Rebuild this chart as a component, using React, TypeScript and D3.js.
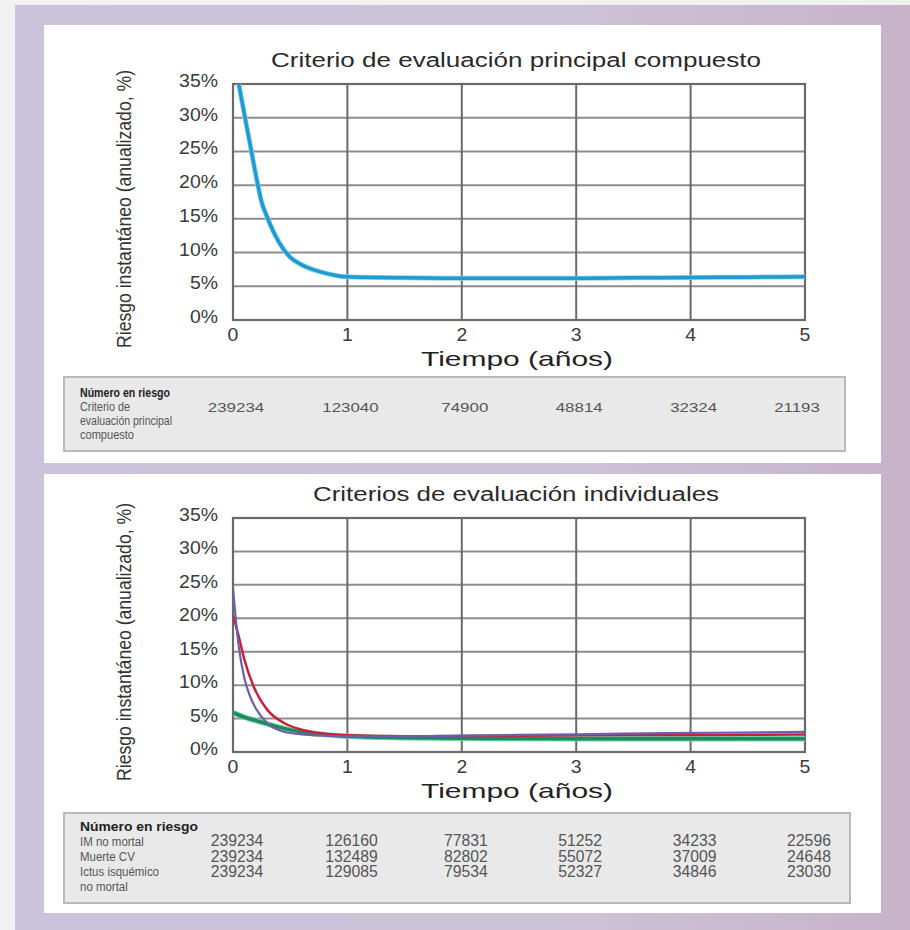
import React from "react";
import * as d3 from "d3";

// ---------- data ----------
const xTicks = [0, 1, 2, 3, 4, 5];
const yTicks = [0, 5, 10, 15, 20, 25, 30, 35];

const compTime = [0, 0.05, 0.1, 0.15, 0.2, 0.25, 0.3, 0.4, 0.5, 0.6, 0.75, 0.9, 1, 1.5, 2, 2.5, 3, 3.5, 4, 4.5, 5];
const compRisk = [40, 35, 30.5, 26, 21.5, 17.5, 15.2, 11.6, 9.3, 8.2, 7.2, 6.6, 6.4, 6.25, 6.2, 6.2, 6.2, 6.25, 6.3, 6.35, 6.4];

const miTime = [0, 0.05, 0.1, 0.15, 0.2, 0.3, 0.45, 0.6, 0.8, 1, 1.5, 2, 3, 4, 5];
const miRisk = [24.5, 15.8, 11.0, 8.3, 6.5, 4.3, 3.0, 2.65, 2.45, 2.35, 2.35, 2.45, 2.65, 2.85, 3.0];

const cvTime = [0, 0.05, 0.1, 0.18, 0.3, 0.45, 0.6, 0.75, 1, 1.5, 2, 3, 4, 5];
const cvRisk = [20.5, 17.3, 13.8, 9.8, 6.3, 4.3, 3.35, 2.85, 2.5, 2.35, 2.4, 2.5, 2.55, 2.6];

const strokeTime = [0, 0.1, 0.2, 0.3, 0.45, 0.6, 0.8, 1, 1.5, 2, 3, 4, 5];
const strokeRisk = [5.9, 5.2, 4.7, 4.2, 3.5, 3.0, 2.6, 2.35, 2.15, 2.05, 2.0, 2.0, 2.0];

const title1 = "Criterio de evaluación principal compuesto";
const title2 = "Criterios de evaluación individuales";
const yLabel = "Riesgo instantáneo (anualizado, %)";
const xLabel = "Tiempo (años)";
const riskHeader = "Número en riesgo";

const compLabel = ["Criterio de", "evaluación principal", "compuesto"];
const compAtRisk = [239234, 123040, 74900, 48814, 32324, 21193];

const indLabels = ["IM no mortal", "Muerte CV", "Ictus isquémico", "no mortal"];
const miAtRisk = [239234, 126160, 77831, 51252, 34233, 22596];
const cvAtRisk = [239234, 132489, 82802, 55072, 37009, 24648];
const strokeAtRisk = [239234, 129085, 79534, 52327, 34846, 23030];

// ---------- helpers ----------
const FONT = "'Liberation Sans', Arial, Helvetica, sans-serif";

type TP = {
  x: number; y: number; size: number; anchor?: string; sx?: number; sy?: number;
  weight?: string | number; fill?: string; len?: number; children: React.ReactNode;
};
function T({ x, y, size, anchor = "start", sx = 1, sy = 1, weight = "normal", fill = "#333", len, children }: TP) {
  return (
    <text
      transform={`translate(${x},${y}) scale(${sx},${sy})`}
      fontSize={size}
      fontFamily={FONT}
      fontWeight={weight}
      textAnchor={anchor}
      fill={fill}
      textLength={len}
      lengthAdjust={len ? "spacingAndGlyphs" : undefined}
    >
      {children}
    </text>
  );
}

type Series = { t: number[]; v: number[]; color: string; width: number; under?: string; underWidth?: number };

function Panel({
  cardTop, cardHeight, plotTop, plotBottom, title, titleLen, series, clipId, table,
}: {
  cardTop: number; cardHeight: number; plotTop: number; plotBottom: number; title: string; titleLen: number;
  series: Series[]; clipId: string; table: React.ReactNode;
}) {
  const left = 233, right = 805;
  const x = d3.scaleLinear().domain([0, 5]).range([left, right]);
  const y = d3.scaleLinear().domain([0, 35]).range([plotBottom, plotTop]);
  const line = d3.line<[number, number]>().x(d => x(d[0])).y(d => y(d[1])).curve(d3.curveMonotoneX);
  const midY = (plotTop + plotBottom) / 2;

  return (
    <g>
      <rect x={44} y={cardTop} width={837} height={cardHeight} fill="#ffffff" />
      <T x={516} y={plotTop - 17} size={20} anchor="middle" fill="#2a2a2a" len={titleLen}>{title}</T>

      <clipPath id={clipId}>
        <rect x={left} y={plotTop} width={right - left} height={plotBottom - plotTop} />
      </clipPath>

      {yTicks.filter(v => v > 0 && v < 35).map(v => (
        <line key={"h" + v} x1={left} x2={right} y1={y(v)} y2={y(v)} stroke="#8d8d8d" strokeWidth={2} />
      ))}
      {xTicks.filter(v => v > 0 && v < 5).map(v => (
        <line key={"v" + v} x1={x(v)} x2={x(v)} y1={plotTop} y2={plotBottom} stroke="#6a6a6a" strokeWidth={2} />
      ))}
      <rect x={left} y={plotTop} width={right - left} height={plotBottom - plotTop} fill="none" stroke="#6a6a6a" strokeWidth={2.2} />

      <g clipPath={`url(#${clipId})`}>
        {series.map((s, i) => {
          const pts = s.t.map((t, j) => [t, s.v[j]] as [number, number]);
          const d = line(pts) || "";
          return (
            <g key={i}>
              {s.under && <path d={d} fill="none" stroke={s.under} strokeWidth={s.underWidth} strokeLinejoin="round" />}
              <path d={d} fill="none" stroke={s.color} strokeWidth={s.width} strokeLinejoin="round" />
            </g>
          );
        })}
      </g>

      {yTicks.map(v => (
        <T key={"yt" + v} x={218} y={y(v) + 3} size={18} anchor="end" sx={1.08} sy={1.05} fill="#3a3a3a">{v + "%"}</T>
      ))}
      {xTicks.map(v => (
        <T key={"xt" + v} x={x(v)} y={plotBottom + 21} size={18} anchor="middle" sx={1.08} sy={1.05} fill="#3a3a3a">{String(v)}</T>
      ))}
      <T x={517} y={plotBottom + 46} size={21} anchor="middle" fill="#222" len={192}>{xLabel}</T>

      <text
        transform={`translate(131,${midY + 7}) rotate(-90)`}
        fontSize={21}
        fontFamily={FONT}
        textAnchor="middle"
        fill="#333"
        textLength={278}
        lengthAdjust="spacingAndGlyphs"
      >
        {yLabel}
      </text>
      {table}
    </g>
  );
}

export default function App() {
  const x = d3.scaleLinear().domain([0, 5]).range([233, 805]);

  // table 1
  const t1Top = 377, t1Bottom = 451, t1Left = 64, t1Right = 845;
  const table1 = (
    <g>
      <rect x={t1Left} y={t1Top} width={t1Right - t1Left} height={t1Bottom - t1Top} fill="#e9e9e9" stroke="#b9b9b9" strokeWidth={2} />
      <T x={80} y={t1Top + 20} size={12} weight="bold" fill="#222" len={90}>{riskHeader}</T>
      {compLabel.map((l, i) => (
        <T key={l} x={80} y={t1Top + 34 + i * 14} size={12} fill="#555" len={[50, 92, 54][i]}>{l}</T>
      ))}
      {compAtRisk.map((n, i) => (
        <T key={"c" + i} x={Math.min(x(xTicks[i]) + 3, t1Right - 48)} y={t1Top + 35} size={13} anchor="middle" sx={1.3} fill="#555">{String(n)}</T>
      ))}
    </g>
  );

  // table 2
  const t2Top = 813, t2Bottom = 903, t2Left = 64, t2Right = 850;
  const rows2 = [miAtRisk, cvAtRisk, strokeAtRisk];
  const table2 = (
    <g>
      <rect x={t2Left} y={t2Top} width={t2Right - t2Left} height={t2Bottom - t2Top} fill="#e9e9e9" stroke="#b9b9b9" strokeWidth={2} />
      <T x={80} y={t2Top + 18} size={12} weight="bold" fill="#222" len={118}>{riskHeader}</T>
      {indLabels.map((l, i) => (
        <T key={l} x={80} y={t2Top + 33 + i * 15} size={13.5} fill="#555" sx={0.85}>{l}</T>
      ))}
      {rows2.map((row, r) =>
        row.map((n, i) => (
          <T key={r + "-" + i} x={Math.min(x(xTicks[i]) + 4, t2Right - 40)} y={t2Top + 33 + r * 15.5} size={15} anchor="middle" sx={1.05} sy={1.08} fill="#555">{String(n)}</T>
        ))
      )}
    </g>
  );

  const compSeries: Series[] = [
    { t: compTime, v: compRisk, color: "#1f9bd2", width: 3.5, under: "#8fd3f0", underWidth: 5 },
  ];
  const indSeries: Series[] = [
    { t: strokeTime, v: strokeRisk, color: "#1f8a5e", width: 3.5, under: "#6fd6a2", underWidth: 5.5 },
    { t: cvTime, v: cvRisk, color: "#c8203c", width: 2.5 },
    { t: miTime, v: miRisk, color: "#6e5fae", width: 2.2 },
  ];

  return (
    <svg width={910} height={930} style={{ display: "block", position: "absolute", left: 0, top: 0 }}>
      <defs>
        <linearGradient id="bg" x1="0" y1="0" x2="1" y2="0">
          <stop offset="0" stopColor="#cbc3dc" />
          <stop offset="0.6" stopColor="#cdc3d8" />
          <stop offset="1" stopColor="#c8b3c9" />
        </linearGradient>
      </defs>
      <rect x={0} y={0} width={910} height={930} fill="#f1f1f1" />
      <rect x={15} y={5} width={895} height={925} fill="url(#bg)" />
      <Panel cardTop={25} cardHeight={438} plotTop={84} plotBottom={320} title={title1} titleLen={490}
        series={compSeries} clipId="clip1" table={table1} />
      <Panel cardTop={474} cardHeight={439} plotTop={518} plotBottom={752} title={title2} titleLen={406}
        series={indSeries} clipId="clip2" table={table2} />
    </svg>
  );
}
